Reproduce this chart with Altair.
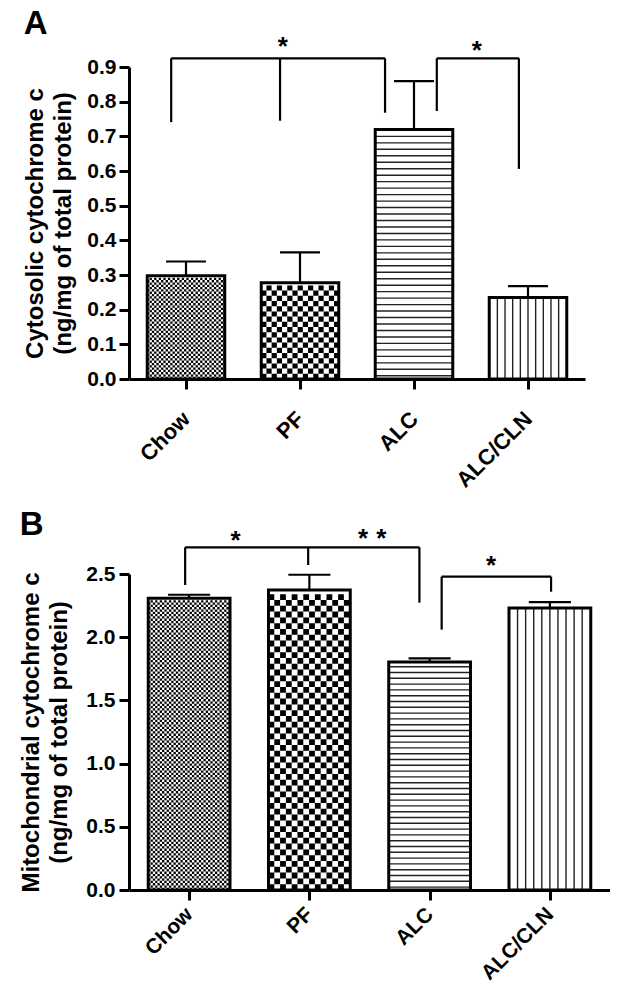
import json
import altair as alt
import pandas as pd

FONT = "Liberation Sans"

groups = ["Chow", "PF", "ALC", "ALC/CLN"]
positions = [0, 1, 2, 3]

# Panel A: cytosolic cytochrome c
a_mean = [0.298, 0.278, 0.720, 0.235]
a_err = [0.041, 0.087, 0.139, 0.033]
a_ticks = [0.0, 0.1, 0.2, 0.3, 0.4, 0.5, 0.6, 0.7, 0.8, 0.9]
a_bracket_x = [[-0.13, 0.825, 1.746], [2.20, 2.92]]
a_bracket_top = [0.925, 0.925]
a_bracket_ends = [[0.741, 0.745, 0.768], [0.773, 0.606]]
a_star_x = [0.85, 2.55]
a_star_y = [0.972, 0.960]

# Panel B: mitochondrial cytochrome c
b_mean = [2.308, 2.373, 1.804, 2.231]
b_err = [0.028, 0.121, 0.029, 0.047]
b_ticks = [0.0, 0.5, 1.0, 1.5, 2.0, 2.5]
b_bracket_x = [[-0.033, 0.99, 1.915], [2.10, 3.01]]
b_bracket_top = [2.711, 2.479]
b_bracket_ends = [[2.413, 2.571, 2.273], [2.06, 2.36]]
b_star_x = [0.387, 1.447, 1.598, 2.51]
b_star_y = [2.80, 2.816, 2.816, 2.603]

HW = 0.34   # half bar width in band units
CAP = 0.175  # half cap width
VLINE_K = [-4, -3, -2, -1, 0, 1, 2, 3, 4]
VLINE_STEP = 0.0672


def panel(letter, title, mean, err, ymax, ticks, W, H,
          brx, brtop, brends, sx, sy, fine_px, coarse_px, hline_px,
          letter_offset, label_pad, title_pad, xlab_pad, xlab_size):
    ppu_y = H / ymax
    xs = alt.Scale(domain=[-0.5, 3.5], nice=False, zero=False)
    ys = alt.Scale(domain=[0, ymax], nice=False, zero=True)

    bars = pd.DataFrame({"g": groups, "pos": positions, "mean": mean, "err": err})
    bars["lo"] = bars["pos"] - HW
    bars["hi"] = bars["pos"] + HW
    bars["top"] = bars["mean"] + bars["err"]
    bars["clo"] = bars["pos"] - CAP
    bars["chi"] = bars["pos"] + CAP
    bars["zero"] = 0.0

    label_expr = json.dumps(groups) + "[datum.value]"
    xaxis = alt.Axis(values=positions, labelExpr=label_expr, labelAngle=-45,
                     labelAlign="right", labelBaseline="middle", labelPadding=xlab_pad,
                     labelFontSize=xlab_size, labelFontWeight="bold", labelFont=FONT,
                     labelColor="black", domainColor="black", domainWidth=3,
                     tickColor="black", tickWidth=3, tickSize=10, grid=False, title=None)
    yaxis = alt.Axis(values=ticks, format=".1f", title=title, titleFont=FONT,
                     titleFontSize=24, titleFontWeight="bold", titleColor="black",
                     titleLineHeight=28, titlePadding=title_pad,
                     labelFontSize=21, labelFontWeight="bold", labelFont=FONT,
                     labelColor="black", labelPadding=label_pad, domainColor="black",
                     domainWidth=3, tickColor="black", tickWidth=3, tickSize=10,
                     grid=False)

    def X(f):
        return alt.X(f, type="quantitative", scale=xs, axis=xaxis)

    def Y(f):
        return alt.Y(f, type="quantitative", scale=ys, axis=yaxis)

    layers = []
    base = alt.Chart(bars)
    layers.append(base.mark_rect(fill="white").encode(
        x=X("lo"), x2="hi", y=Y("zero"), y2="mean"))

    # checkerboard patterns (Chow fine, PF coarse) as dashed row rules
    for i, cell in [(0, fine_px), (1, coarse_px)]:
        cu = cell / ppu_y
        n = int(mean[i] / cu)
        rows = pd.DataFrame({"y": [(k + 0.5) * cu for k in range(n)],
                             "par": [k % 2 for k in range(n)]})
        rows["lo"] = positions[i] - HW
        rows["hi"] = positions[i] + HW
        for par in (0, 1):
            sub = rows[rows["par"] == par]
            layers.append(alt.Chart(sub).mark_rule(
                color="black", strokeWidth=cell, strokeDash=[cell, cell],
                strokeDashOffset=cell * par).encode(x=X("lo"), x2="hi", y=Y("y")))

    # horizontal lines (ALC)
    hu = hline_px / ppu_y
    nh = int((mean[2] - 0.3 * hu) / hu)
    hl = pd.DataFrame({"y": [(k + 0.5) * hu for k in range(nh)]})
    hl["lo"] = positions[2] - HW
    hl["hi"] = positions[2] + HW
    layers.append(alt.Chart(hl).mark_rule(color="#222", strokeWidth=1.4).encode(
        x=X("lo"), x2="hi", y=Y("y")))

    # vertical lines (ALC/CLN)
    vl = pd.DataFrame({"x": [positions[3] + k * VLINE_STEP for k in VLINE_K]})
    vl["y0"] = 0.0
    vl["y1"] = mean[3]
    layers.append(alt.Chart(vl).mark_rule(color="#222", strokeWidth=1.4).encode(
        x=X("x"), y=Y("y0"), y2="y1"))

    # bar outlines
    layers.append(base.mark_rect(fill="transparent", stroke="black", strokeWidth=3).encode(
        x=X("lo"), x2="hi", y=Y("zero"), y2="mean"))

    # error bars (upper)
    layers.append(base.mark_rule(color="black", strokeWidth=2.2).encode(
        x=X("pos"), y=Y("mean"), y2="top"))
    layers.append(base.mark_rule(color="black", strokeWidth=2.2).encode(
        x=X("clo"), x2="chi", y=Y("top")))

    # significance brackets
    segs = []
    for xsb, top, ends in zip(brx, brtop, brends):
        segs.append({"x": min(xsb), "x2": max(xsb), "y": top, "y2": top})
        for xv, e in zip(xsb, ends):
            segs.append({"x": xv, "x2": xv, "y": e, "y2": top})
    segs = pd.DataFrame(segs)
    layers.append(alt.Chart(segs).mark_rule(color="black", strokeWidth=2.2).encode(
        x=X("x"), x2="x2", y=Y("y"), y2="y2"))

    stars = pd.DataFrame({"x": sx, "y": sy})
    layers.append(alt.Chart(stars).mark_text(
        text="*", font=FONT, fontSize=26, fontWeight="bold", color="black",
        baseline="middle", dy=5).encode(x=X("x"), y=Y("y")))

    return alt.layer(*layers).properties(
        width=W, height=H,
        title=alt.TitleParams(letter, anchor="start", frame="bounds", font=FONT,
                              fontSize=33, fontWeight="bold", color="black",
                              offset=letter_offset))


pa = panel("A", ["Cytosolic cytochrome c", "(ng/mg of total protein)"],
           a_mean, a_err, 0.9, a_ticks, 456, 312,
           a_bracket_x, a_bracket_top, a_bracket_ends, a_star_x, a_star_y,
           2.3, 5.2, 6.47, -7, 3, 11, 26, 22)
pb = panel("B", ["Mitochondrial cytochrome c", "(ng/mg of total protein)"],
           b_mean, b_err, 2.5, b_ticks, 481, 316,
           b_bracket_x, b_bracket_top, b_bracket_ends, b_star_x, b_star_y,
           2.3, 5.8, 5.8, -16, 4, 14, 11, 21)

chart = alt.concat(pa, pb, columns=1, spacing=17, align="none").properties(
    padding={"left": 11, "top": 0, "right": 0, "bottom": 0}
).configure_view(strokeWidth=0)

chart.save("out.html", embed_options={"renderer": "svg", "actions": False})
